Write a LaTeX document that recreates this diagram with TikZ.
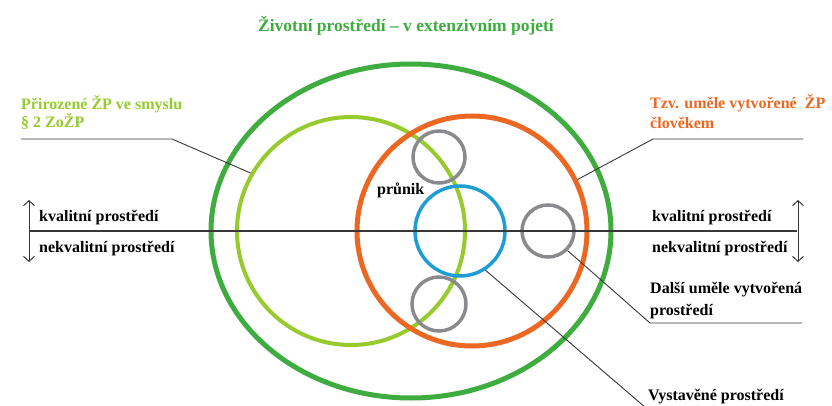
\documentclass[tikz,border=0pt]{standalone}
\usepackage{fontspec}
\setmainfont{Liberation Serif}
\usetikzlibrary{shapes,arrows.meta}

\definecolor{zpgreen}{RGB}{62,172,62}
\definecolor{zplight}{RGB}{150,202,45}
\definecolor{zporange}{RGB}{236,104,34}
\definecolor{zpblue}{RGB}{30,156,212}
\definecolor{zpgray}{RGB}{138,138,142}
\definecolor{zpline}{RGB}{55,55,55}

\begin{document}
\begin{tikzpicture}[x=1pt,y=-1pt]
\tikzstyle{ring}=[circle, draw, inner sep=0pt]
\tikzstyle{lbl}=[anchor=base west, inner sep=0pt, font=\fontsize{16}{18}\selectfont\bfseries]
\tikzstyle{leader}=[draw=zpline, line width=0.9pt]
\tikzstyle{updown}=[{Straight Barb[length=5pt,width=11pt]}-{Straight Barb[length=5pt,width=11pt]}, zpline, line width=1pt]
\useasboundingbox (0,0) rectangle (832,406);
\fill[white] (0,0) rectangle (832,406);

\node[ellipse, draw=zpgreen, line width=5pt, inner sep=0pt,
  minimum width=400pt, minimum height=334pt] (env) at (411,231) {};
\node[ring, draw=zplight, line width=4pt, minimum size=228pt] (nat) at (351,231) {};
\node[ring, draw=zporange, line width=5pt, minimum size=230pt] (art) at (472,231) {};
\node[ring, draw=zpblue, line width=3.5pt, minimum size=90pt] (built) at (460,231) {};
\node[ring, draw=zpgray, line width=3.5pt, minimum size=52pt] (topc) at (439,157) {};
\node[ring, draw=zpgray, line width=3.5pt, minimum size=54pt] (botc) at (439,304) {};
\node[ring, draw=zpgray, line width=3.5pt, minimum size=52pt] (other) at (548,231) {};

\coordinate (axl) at (29,231);
\coordinate (axr) at (797,231);
\draw[zpline, line width=1.6pt] (axl) -- (axr);
\draw[updown] (29,200) -- (29,262);
\draw[updown] (798,200) -- (798,262);

\node[lbl, anchor=base, text=zpgreen, font=\fontsize{17.5}{20}\selectfont\bfseries] (title) at (406,32)
  {Životní prostředí – v extenzivním pojetí};

\node[lbl, text=zplight] (natA) at (21,110) {Přirozené ŽP ve smyslu};
\node[lbl, text=zplight] (natB) at (21,128) {§ 2 ZoŽP};
\coordinate (natU) at (21,139);
\coordinate (natK) at (172,139);
\draw[leader] (natU) -- (natK) -- (nat.150);

\node[lbl, text=zporange] (artA) at (650,109) {Tzv. uměle vytvořené~ ŽP};
\node[lbl, text=zporange] (artB) at (650,129) {člověkem};
\coordinate (artK) at (653,139);
\coordinate (artU) at (803,139);
\draw[leader] (art.26) -- (artK) -- (artU);

\node[lbl] (goodL) at (39,222) {kvalitní prostředí};
\node[lbl] (badL) at (39,252) {nekvalitní prostředí};
\node[lbl] (goodR) at (652,222) {kvalitní prostředí};
\node[lbl] (badR) at (652,252) {nekvalitní prostředí};

\node[lbl] (prunik) at (377,195) {průnik};

\node[lbl] (otherA) at (650,293) {Další uměle vytvořená};
\node[lbl] (otherB) at (650,315) {prostředí};
\coordinate (otherK) at (650,323);
\coordinate (otherU) at (802,323);
\draw[leader] (other.-45) -- (otherK) -- (otherU);

\node[lbl] (builtA) at (648,400) {Vystavěné prostředí};
\coordinate (builtK) at (646,408);
\draw[leader] (built.-57) -- (builtK);
\end{tikzpicture}
\end{document}
